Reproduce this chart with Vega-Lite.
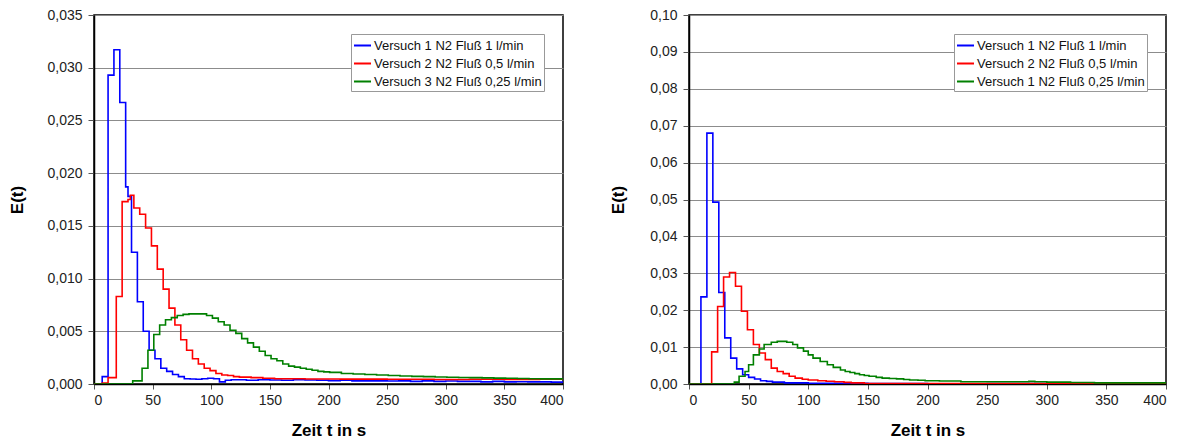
{
  "$schema": "https://vega.github.io/schema/vega-lite/v6.json",
  "padding": {"left": 8, "top": 7, "right": 5, "bottom": 0},
  "bounds": "flush",
  "spacing": 126,
  "background": "white",
  "config": {
    "font": "Liberation Sans",
    "view": {"stroke": "#000000", "strokeWidth": 1.5},
    "axis": {
      "labelFont": "Liberation Sans", "labelFontSize": 14, "labelColor": "#222222",
      "titleFont": "Liberation Sans", "titleFontSize": 17, "titleFontWeight": "bold", "titleColor": "#000000",
      "domainColor": "#000000", "domainWidth": 1.5, "tickColor": "#555555", "tickSize": 6,
      "gridColor": "#8c8c8c", "gridWidth": 1
    },
    "legend": {
      "orient": "top-right", "offset": 19, "title": null,
      "strokeColor": "#999999", "fillColor": "white", "padding": 2,
      "symbolType": "stroke", "symbolSize": 289, "symbolStrokeWidth": 2,
      "labelFont": "Liberation Sans", "labelFontSize": 13, "labelColor": "#111111",
      "labelOffset": 2, "rowPadding": 1, "labelLimit": 300
    }
  },
  "datasets": {
    "left": [
      {"t": 0, "E": 0, "s": "Versuch 1 N2 Fluß 1 l/min"},
      {"t": 7, "E": 0.0007, "s": "Versuch 1 N2 Fluß 1 l/min"},
      {"t": 12, "E": 0.0293, "s": "Versuch 1 N2 Fluß 1 l/min"},
      {"t": 17, "E": 0.0317, "s": "Versuch 1 N2 Fluß 1 l/min"},
      {"t": 22, "E": 0.0267, "s": "Versuch 1 N2 Fluß 1 l/min"},
      {"t": 27, "E": 0.0187, "s": "Versuch 1 N2 Fluß 1 l/min"},
      {"t": 29, "E": 0.0178, "s": "Versuch 1 N2 Fluß 1 l/min"},
      {"t": 32, "E": 0.0125, "s": "Versuch 1 N2 Fluß 1 l/min"},
      {"t": 37, "E": 0.0078, "s": "Versuch 1 N2 Fluß 1 l/min"},
      {"t": 42, "E": 0.005, "s": "Versuch 1 N2 Fluß 1 l/min"},
      {"t": 47, "E": 0.0032, "s": "Versuch 1 N2 Fluß 1 l/min"},
      {"t": 52, "E": 0.0024, "s": "Versuch 1 N2 Fluß 1 l/min"},
      {"t": 57, "E": 0.0015, "s": "Versuch 1 N2 Fluß 1 l/min"},
      {"t": 62, "E": 0.0012, "s": "Versuch 1 N2 Fluß 1 l/min"},
      {"t": 67, "E": 0.0009, "s": "Versuch 1 N2 Fluß 1 l/min"},
      {"t": 72, "E": 0.0007, "s": "Versuch 1 N2 Fluß 1 l/min"},
      {"t": 77, "E": 0.0005, "s": "Versuch 1 N2 Fluß 1 l/min"},
      {"t": 82, "E": 0.00048, "s": "Versuch 1 N2 Fluß 1 l/min"},
      {"t": 87, "E": 0.00045, "s": "Versuch 1 N2 Fluß 1 l/min"},
      {"t": 92, "E": 0.0005, "s": "Versuch 1 N2 Fluß 1 l/min"},
      {"t": 97, "E": 0.00055, "s": "Versuch 1 N2 Fluß 1 l/min"},
      {"t": 102, "E": 0.0005, "s": "Versuch 1 N2 Fluß 1 l/min"},
      {"t": 107, "E": 0.0002, "s": "Versuch 1 N2 Fluß 1 l/min"},
      {"t": 112, "E": 0.00035, "s": "Versuch 1 N2 Fluß 1 l/min"},
      {"t": 117, "E": 0.0004, "s": "Versuch 1 N2 Fluß 1 l/min"},
      {"t": 130, "E": 0.00035, "s": "Versuch 1 N2 Fluß 1 l/min"},
      {"t": 140, "E": 0.0004, "s": "Versuch 1 N2 Fluß 1 l/min"},
      {"t": 150, "E": 0.00038, "s": "Versuch 1 N2 Fluß 1 l/min"},
      {"t": 160, "E": 0.00035, "s": "Versuch 1 N2 Fluß 1 l/min"},
      {"t": 170, "E": 0.0004, "s": "Versuch 1 N2 Fluß 1 l/min"},
      {"t": 180, "E": 0.00038, "s": "Versuch 1 N2 Fluß 1 l/min"},
      {"t": 190, "E": 0.00035, "s": "Versuch 1 N2 Fluß 1 l/min"},
      {"t": 200, "E": 0.00032, "s": "Versuch 1 N2 Fluß 1 l/min"},
      {"t": 210, "E": 0.00035, "s": "Versuch 1 N2 Fluß 1 l/min"},
      {"t": 220, "E": 0.0003, "s": "Versuch 1 N2 Fluß 1 l/min"},
      {"t": 240, "E": 0.0003, "s": "Versuch 1 N2 Fluß 1 l/min"},
      {"t": 250, "E": 0.00028, "s": "Versuch 1 N2 Fluß 1 l/min"},
      {"t": 260, "E": 0.0003, "s": "Versuch 1 N2 Fluß 1 l/min"},
      {"t": 270, "E": 0.00025, "s": "Versuch 1 N2 Fluß 1 l/min"},
      {"t": 280, "E": 0.0003, "s": "Versuch 1 N2 Fluß 1 l/min"},
      {"t": 290, "E": 0.00025, "s": "Versuch 1 N2 Fluß 1 l/min"},
      {"t": 300, "E": 0.00028, "s": "Versuch 1 N2 Fluß 1 l/min"},
      {"t": 310, "E": 0.00025, "s": "Versuch 1 N2 Fluß 1 l/min"},
      {"t": 330, "E": 0.0002, "s": "Versuch 1 N2 Fluß 1 l/min"},
      {"t": 340, "E": 0.00025, "s": "Versuch 1 N2 Fluß 1 l/min"},
      {"t": 350, "E": 0.0002, "s": "Versuch 1 N2 Fluß 1 l/min"},
      {"t": 360, "E": 0.00022, "s": "Versuch 1 N2 Fluß 1 l/min"},
      {"t": 370, "E": 0.0002, "s": "Versuch 1 N2 Fluß 1 l/min"},
      {"t": 390, "E": 0.00018, "s": "Versuch 1 N2 Fluß 1 l/min"},
      {"t": 400, "E": 0.00018, "s": "Versuch 1 N2 Fluß 1 l/min"},

      {"t": 0, "E": 0, "s": "Versuch 2 N2 Fluß 0,5 l/min"},
      {"t": 7, "E": 0.0001, "s": "Versuch 2 N2 Fluß 0,5 l/min"},
      {"t": 12, "E": 0.0006, "s": "Versuch 2 N2 Fluß 0,5 l/min"},
      {"t": 19, "E": 0.0083, "s": "Versuch 2 N2 Fluß 0,5 l/min"},
      {"t": 24, "E": 0.0173, "s": "Versuch 2 N2 Fluß 0,5 l/min"},
      {"t": 29, "E": 0.0175, "s": "Versuch 2 N2 Fluß 0,5 l/min"},
      {"t": 31, "E": 0.0179, "s": "Versuch 2 N2 Fluß 0,5 l/min"},
      {"t": 34, "E": 0.0167, "s": "Versuch 2 N2 Fluß 0,5 l/min"},
      {"t": 39, "E": 0.0161, "s": "Versuch 2 N2 Fluß 0,5 l/min"},
      {"t": 44, "E": 0.0148, "s": "Versuch 2 N2 Fluß 0,5 l/min"},
      {"t": 49, "E": 0.0131, "s": "Versuch 2 N2 Fluß 0,5 l/min"},
      {"t": 54, "E": 0.0109, "s": "Versuch 2 N2 Fluß 0,5 l/min"},
      {"t": 59, "E": 0.009, "s": "Versuch 2 N2 Fluß 0,5 l/min"},
      {"t": 64, "E": 0.0072, "s": "Versuch 2 N2 Fluß 0,5 l/min"},
      {"t": 69, "E": 0.0056, "s": "Versuch 2 N2 Fluß 0,5 l/min"},
      {"t": 74, "E": 0.0042, "s": "Versuch 2 N2 Fluß 0,5 l/min"},
      {"t": 79, "E": 0.0032, "s": "Versuch 2 N2 Fluß 0,5 l/min"},
      {"t": 84, "E": 0.0024, "s": "Versuch 2 N2 Fluß 0,5 l/min"},
      {"t": 89, "E": 0.0019, "s": "Versuch 2 N2 Fluß 0,5 l/min"},
      {"t": 94, "E": 0.0015, "s": "Versuch 2 N2 Fluß 0,5 l/min"},
      {"t": 99, "E": 0.00127, "s": "Versuch 2 N2 Fluß 0,5 l/min"},
      {"t": 104, "E": 0.001, "s": "Versuch 2 N2 Fluß 0,5 l/min"},
      {"t": 109, "E": 0.00086, "s": "Versuch 2 N2 Fluß 0,5 l/min"},
      {"t": 114, "E": 0.0008, "s": "Versuch 2 N2 Fluß 0,5 l/min"},
      {"t": 119, "E": 0.0007, "s": "Versuch 2 N2 Fluß 0,5 l/min"},
      {"t": 124, "E": 0.00065, "s": "Versuch 2 N2 Fluß 0,5 l/min"},
      {"t": 134, "E": 0.0006, "s": "Versuch 2 N2 Fluß 0,5 l/min"},
      {"t": 144, "E": 0.00055, "s": "Versuch 2 N2 Fluß 0,5 l/min"},
      {"t": 154, "E": 0.0005, "s": "Versuch 2 N2 Fluß 0,5 l/min"},
      {"t": 180, "E": 0.00048, "s": "Versuch 2 N2 Fluß 0,5 l/min"},
      {"t": 210, "E": 0.00046, "s": "Versuch 2 N2 Fluß 0,5 l/min"},
      {"t": 250, "E": 0.00045, "s": "Versuch 2 N2 Fluß 0,5 l/min"},
      {"t": 290, "E": 0.00042, "s": "Versuch 2 N2 Fluß 0,5 l/min"},
      {"t": 320, "E": 0.00045, "s": "Versuch 2 N2 Fluß 0,5 l/min"},
      {"t": 350, "E": 0.00042, "s": "Versuch 2 N2 Fluß 0,5 l/min"},
      {"t": 380, "E": 0.00045, "s": "Versuch 2 N2 Fluß 0,5 l/min"},
      {"t": 400, "E": 0.00045, "s": "Versuch 2 N2 Fluß 0,5 l/min"},

      {"t": 0, "E": 0, "s": "Versuch 3 N2 Fluß 0,25 l/min"},
      {"t": 33, "E": 0.0003, "s": "Versuch 3 N2 Fluß 0,25 l/min"},
      {"t": 41, "E": 0.0015, "s": "Versuch 3 N2 Fluß 0,25 l/min"},
      {"t": 46, "E": 0.0032, "s": "Versuch 3 N2 Fluß 0,25 l/min"},
      {"t": 51, "E": 0.0047, "s": "Versuch 3 N2 Fluß 0,25 l/min"},
      {"t": 56, "E": 0.0056, "s": "Versuch 3 N2 Fluß 0,25 l/min"},
      {"t": 61, "E": 0.0061, "s": "Versuch 3 N2 Fluß 0,25 l/min"},
      {"t": 66, "E": 0.0063, "s": "Versuch 3 N2 Fluß 0,25 l/min"},
      {"t": 71, "E": 0.0065, "s": "Versuch 3 N2 Fluß 0,25 l/min"},
      {"t": 76, "E": 0.0066, "s": "Versuch 3 N2 Fluß 0,25 l/min"},
      {"t": 81, "E": 0.00665, "s": "Versuch 3 N2 Fluß 0,25 l/min"},
      {"t": 96, "E": 0.0065, "s": "Versuch 3 N2 Fluß 0,25 l/min"},
      {"t": 101, "E": 0.00625, "s": "Versuch 3 N2 Fluß 0,25 l/min"},
      {"t": 106, "E": 0.0059, "s": "Versuch 3 N2 Fluß 0,25 l/min"},
      {"t": 111, "E": 0.0056, "s": "Versuch 3 N2 Fluß 0,25 l/min"},
      {"t": 116, "E": 0.0051, "s": "Versuch 3 N2 Fluß 0,25 l/min"},
      {"t": 121, "E": 0.0048, "s": "Versuch 3 N2 Fluß 0,25 l/min"},
      {"t": 126, "E": 0.0043, "s": "Versuch 3 N2 Fluß 0,25 l/min"},
      {"t": 131, "E": 0.0039, "s": "Versuch 3 N2 Fluß 0,25 l/min"},
      {"t": 136, "E": 0.0035, "s": "Versuch 3 N2 Fluß 0,25 l/min"},
      {"t": 141, "E": 0.0031, "s": "Versuch 3 N2 Fluß 0,25 l/min"},
      {"t": 146, "E": 0.0027, "s": "Versuch 3 N2 Fluß 0,25 l/min"},
      {"t": 151, "E": 0.0024, "s": "Versuch 3 N2 Fluß 0,25 l/min"},
      {"t": 156, "E": 0.0022, "s": "Versuch 3 N2 Fluß 0,25 l/min"},
      {"t": 161, "E": 0.0019, "s": "Versuch 3 N2 Fluß 0,25 l/min"},
      {"t": 166, "E": 0.0017, "s": "Versuch 3 N2 Fluß 0,25 l/min"},
      {"t": 171, "E": 0.0016, "s": "Versuch 3 N2 Fluß 0,25 l/min"},
      {"t": 176, "E": 0.0015, "s": "Versuch 3 N2 Fluß 0,25 l/min"},
      {"t": 181, "E": 0.0014, "s": "Versuch 3 N2 Fluß 0,25 l/min"},
      {"t": 186, "E": 0.0013, "s": "Versuch 3 N2 Fluß 0,25 l/min"},
      {"t": 191, "E": 0.0012, "s": "Versuch 3 N2 Fluß 0,25 l/min"},
      {"t": 196, "E": 0.00115, "s": "Versuch 3 N2 Fluß 0,25 l/min"},
      {"t": 201, "E": 0.0011, "s": "Versuch 3 N2 Fluß 0,25 l/min"},
      {"t": 211, "E": 0.001, "s": "Versuch 3 N2 Fluß 0,25 l/min"},
      {"t": 221, "E": 0.00095, "s": "Versuch 3 N2 Fluß 0,25 l/min"},
      {"t": 231, "E": 0.0009, "s": "Versuch 3 N2 Fluß 0,25 l/min"},
      {"t": 241, "E": 0.00085, "s": "Versuch 3 N2 Fluß 0,25 l/min"},
      {"t": 251, "E": 0.0008, "s": "Versuch 3 N2 Fluß 0,25 l/min"},
      {"t": 261, "E": 0.00076, "s": "Versuch 3 N2 Fluß 0,25 l/min"},
      {"t": 271, "E": 0.00072, "s": "Versuch 3 N2 Fluß 0,25 l/min"},
      {"t": 281, "E": 0.0007, "s": "Versuch 3 N2 Fluß 0,25 l/min"},
      {"t": 291, "E": 0.00067, "s": "Versuch 3 N2 Fluß 0,25 l/min"},
      {"t": 301, "E": 0.00064, "s": "Versuch 3 N2 Fluß 0,25 l/min"},
      {"t": 311, "E": 0.00062, "s": "Versuch 3 N2 Fluß 0,25 l/min"},
      {"t": 321, "E": 0.0006, "s": "Versuch 3 N2 Fluß 0,25 l/min"},
      {"t": 331, "E": 0.00058, "s": "Versuch 3 N2 Fluß 0,25 l/min"},
      {"t": 341, "E": 0.00056, "s": "Versuch 3 N2 Fluß 0,25 l/min"},
      {"t": 351, "E": 0.00054, "s": "Versuch 3 N2 Fluß 0,25 l/min"},
      {"t": 361, "E": 0.00052, "s": "Versuch 3 N2 Fluß 0,25 l/min"},
      {"t": 371, "E": 0.0005, "s": "Versuch 3 N2 Fluß 0,25 l/min"},
      {"t": 381, "E": 0.00049, "s": "Versuch 3 N2 Fluß 0,25 l/min"},
      {"t": 400, "E": 0.00048, "s": "Versuch 3 N2 Fluß 0,25 l/min"}
    ],
    "right": [
      {"t": 0, "E": 0, "s": "Versuch 1 N2 Fluß 1 l/min"},
      {"t": 10, "E": 0.0236, "s": "Versuch 1 N2 Fluß 1 l/min"},
      {"t": 15, "E": 0.068, "s": "Versuch 1 N2 Fluß 1 l/min"},
      {"t": 20, "E": 0.0493, "s": "Versuch 1 N2 Fluß 1 l/min"},
      {"t": 25, "E": 0.0248, "s": "Versuch 1 N2 Fluß 1 l/min"},
      {"t": 30, "E": 0.0125, "s": "Versuch 1 N2 Fluß 1 l/min"},
      {"t": 35, "E": 0.007, "s": "Versuch 1 N2 Fluß 1 l/min"},
      {"t": 40, "E": 0.0041, "s": "Versuch 1 N2 Fluß 1 l/min"},
      {"t": 45, "E": 0.0025, "s": "Versuch 1 N2 Fluß 1 l/min"},
      {"t": 50, "E": 0.0018, "s": "Versuch 1 N2 Fluß 1 l/min"},
      {"t": 55, "E": 0.00135, "s": "Versuch 1 N2 Fluß 1 l/min"},
      {"t": 60, "E": 0.0009, "s": "Versuch 1 N2 Fluß 1 l/min"},
      {"t": 65, "E": 0.0007, "s": "Versuch 1 N2 Fluß 1 l/min"},
      {"t": 70, "E": 0.0005, "s": "Versuch 1 N2 Fluß 1 l/min"},
      {"t": 80, "E": 0.0003, "s": "Versuch 1 N2 Fluß 1 l/min"},
      {"t": 100, "E": 0.0002, "s": "Versuch 1 N2 Fluß 1 l/min"},
      {"t": 150, "E": 0.0001, "s": "Versuch 1 N2 Fluß 1 l/min"},
      {"t": 200, "E": 0.00005, "s": "Versuch 1 N2 Fluß 1 l/min"},
      {"t": 250, "E": 0.0001, "s": "Versuch 1 N2 Fluß 1 l/min"},
      {"t": 400, "E": 0.0001, "s": "Versuch 1 N2 Fluß 1 l/min"},

      {"t": 0, "E": 0, "s": "Versuch 2 N2 Fluß 0,5 l/min"},
      {"t": 19, "E": 0.0087, "s": "Versuch 2 N2 Fluß 0,5 l/min"},
      {"t": 24, "E": 0.021, "s": "Versuch 2 N2 Fluß 0,5 l/min"},
      {"t": 29, "E": 0.029, "s": "Versuch 2 N2 Fluß 0,5 l/min"},
      {"t": 34, "E": 0.0302, "s": "Versuch 2 N2 Fluß 0,5 l/min"},
      {"t": 39, "E": 0.0265, "s": "Versuch 2 N2 Fluß 0,5 l/min"},
      {"t": 44, "E": 0.0197, "s": "Versuch 2 N2 Fluß 0,5 l/min"},
      {"t": 49, "E": 0.0147, "s": "Versuch 2 N2 Fluß 0,5 l/min"},
      {"t": 54, "E": 0.0107, "s": "Versuch 2 N2 Fluß 0,5 l/min"},
      {"t": 59, "E": 0.0084, "s": "Versuch 2 N2 Fluß 0,5 l/min"},
      {"t": 64, "E": 0.0066, "s": "Versuch 2 N2 Fluß 0,5 l/min"},
      {"t": 69, "E": 0.0043, "s": "Versuch 2 N2 Fluß 0,5 l/min"},
      {"t": 74, "E": 0.0034, "s": "Versuch 2 N2 Fluß 0,5 l/min"},
      {"t": 79, "E": 0.0028, "s": "Versuch 2 N2 Fluß 0,5 l/min"},
      {"t": 84, "E": 0.0021, "s": "Versuch 2 N2 Fluß 0,5 l/min"},
      {"t": 89, "E": 0.0016, "s": "Versuch 2 N2 Fluß 0,5 l/min"},
      {"t": 95, "E": 0.0013, "s": "Versuch 2 N2 Fluß 0,5 l/min"},
      {"t": 100, "E": 0.0011, "s": "Versuch 2 N2 Fluß 0,5 l/min"},
      {"t": 108, "E": 0.0009, "s": "Versuch 2 N2 Fluß 0,5 l/min"},
      {"t": 115, "E": 0.00075, "s": "Versuch 2 N2 Fluß 0,5 l/min"},
      {"t": 122, "E": 0.0006, "s": "Versuch 2 N2 Fluß 0,5 l/min"},
      {"t": 130, "E": 0.00045, "s": "Versuch 2 N2 Fluß 0,5 l/min"},
      {"t": 136, "E": 0.0003, "s": "Versuch 2 N2 Fluß 0,5 l/min"},
      {"t": 147, "E": 0.00015, "s": "Versuch 2 N2 Fluß 0,5 l/min"},
      {"t": 160, "E": 0.0001, "s": "Versuch 2 N2 Fluß 0,5 l/min"},
      {"t": 400, "E": 0.0001, "s": "Versuch 2 N2 Fluß 0,5 l/min"},

      {"t": 0, "E": 0, "s": "Versuch 1 N2 Fluß 0,25 l/min"},
      {"t": 38, "E": 0.0005, "s": "Versuch 1 N2 Fluß 0,25 l/min"},
      {"t": 42, "E": 0.0021, "s": "Versuch 1 N2 Fluß 0,25 l/min"},
      {"t": 47, "E": 0.0034, "s": "Versuch 1 N2 Fluß 0,25 l/min"},
      {"t": 50, "E": 0.0052, "s": "Versuch 1 N2 Fluß 0,25 l/min"},
      {"t": 54, "E": 0.0079, "s": "Versuch 1 N2 Fluß 0,25 l/min"},
      {"t": 59, "E": 0.0095, "s": "Versuch 1 N2 Fluß 0,25 l/min"},
      {"t": 63, "E": 0.0107, "s": "Versuch 1 N2 Fluß 0,25 l/min"},
      {"t": 69, "E": 0.0113, "s": "Versuch 1 N2 Fluß 0,25 l/min"},
      {"t": 74, "E": 0.01155, "s": "Versuch 1 N2 Fluß 0,25 l/min"},
      {"t": 82, "E": 0.0113, "s": "Versuch 1 N2 Fluß 0,25 l/min"},
      {"t": 87, "E": 0.0107, "s": "Versuch 1 N2 Fluß 0,25 l/min"},
      {"t": 91, "E": 0.0098, "s": "Versuch 1 N2 Fluß 0,25 l/min"},
      {"t": 96, "E": 0.0089, "s": "Versuch 1 N2 Fluß 0,25 l/min"},
      {"t": 100, "E": 0.0079, "s": "Versuch 1 N2 Fluß 0,25 l/min"},
      {"t": 104, "E": 0.007, "s": "Versuch 1 N2 Fluß 0,25 l/min"},
      {"t": 110, "E": 0.0061, "s": "Versuch 1 N2 Fluß 0,25 l/min"},
      {"t": 116, "E": 0.0052, "s": "Versuch 1 N2 Fluß 0,25 l/min"},
      {"t": 121, "E": 0.0045, "s": "Versuch 1 N2 Fluß 0,25 l/min"},
      {"t": 127, "E": 0.0038, "s": "Versuch 1 N2 Fluß 0,25 l/min"},
      {"t": 131, "E": 0.0034, "s": "Versuch 1 N2 Fluß 0,25 l/min"},
      {"t": 135, "E": 0.0031, "s": "Versuch 1 N2 Fluß 0,25 l/min"},
      {"t": 139, "E": 0.0028, "s": "Versuch 1 N2 Fluß 0,25 l/min"},
      {"t": 143, "E": 0.0025, "s": "Versuch 1 N2 Fluß 0,25 l/min"},
      {"t": 147, "E": 0.0023, "s": "Versuch 1 N2 Fluß 0,25 l/min"},
      {"t": 151, "E": 0.0021, "s": "Versuch 1 N2 Fluß 0,25 l/min"},
      {"t": 157, "E": 0.0018, "s": "Versuch 1 N2 Fluß 0,25 l/min"},
      {"t": 162, "E": 0.0016, "s": "Versuch 1 N2 Fluß 0,25 l/min"},
      {"t": 168, "E": 0.0015, "s": "Versuch 1 N2 Fluß 0,25 l/min"},
      {"t": 174, "E": 0.0014, "s": "Versuch 1 N2 Fluß 0,25 l/min"},
      {"t": 180, "E": 0.0012, "s": "Versuch 1 N2 Fluß 0,25 l/min"},
      {"t": 185, "E": 0.0011, "s": "Versuch 1 N2 Fluß 0,25 l/min"},
      {"t": 192, "E": 0.001, "s": "Versuch 1 N2 Fluß 0,25 l/min"},
      {"t": 198, "E": 0.0009, "s": "Versuch 1 N2 Fluß 0,25 l/min"},
      {"t": 210, "E": 0.0008, "s": "Versuch 1 N2 Fluß 0,25 l/min"},
      {"t": 228, "E": 0.0006, "s": "Versuch 1 N2 Fluß 0,25 l/min"},
      {"t": 285, "E": 0.0007, "s": "Versuch 1 N2 Fluß 0,25 l/min"},
      {"t": 290, "E": 0.0006, "s": "Versuch 1 N2 Fluß 0,25 l/min"},
      {"t": 300, "E": 0.0005, "s": "Versuch 1 N2 Fluß 0,25 l/min"},
      {"t": 320, "E": 0.0004, "s": "Versuch 1 N2 Fluß 0,25 l/min"},
      {"t": 340, "E": 0.0003, "s": "Versuch 1 N2 Fluß 0,25 l/min"},
      {"t": 400, "E": 0.0003, "s": "Versuch 1 N2 Fluß 0,25 l/min"}
    ]
  },
  "hconcat": [
    {
      "width": 469,
      "height": 369,
      "data": {"name": "left"},
      "mark": {"type": "line", "interpolate": "step-after", "strokeWidth": 1.6, "clip": true},
      "encoding": {
        "x": {"field": "t", "type": "quantitative", "title": "Zeit t in s",
              "scale": {"domain": [0, 400], "nice": false},
              "axis": {"values": [0, 50, 100, 150, 200, 250, 300, 350, 400], "grid": false, "tickSize": 5, "labelPadding": 4, "titlePadding": 15}},
        "y": {"field": "E", "type": "quantitative", "title": "E(t)",
              "scale": {"domain": [0, 0.035], "nice": false},
              "axis": {"values": [0, 0.005, 0.01, 0.015, 0.02, 0.025, 0.03, 0.035], "labelPadding": 6, "titlePadding": 20,
                       "labelExpr": "replace(format(datum.value, '.3f'), '.', ',')"}},
        "color": {"field": "s", "type": "nominal",
                  "scale": {"domain": ["Versuch 1 N2 Fluß 1 l/min", "Versuch 2 N2 Fluß 0,5 l/min", "Versuch 3 N2 Fluß 0,25 l/min"],
                            "range": ["#0000ff", "#ff0000", "#008000"]}}
      }
    },
    {
      "width": 477,
      "height": 369,
      "data": {"name": "right"},
      "mark": {"type": "line", "interpolate": "step-after", "strokeWidth": 1.6, "clip": true},
      "encoding": {
        "x": {"field": "t", "type": "quantitative", "title": "Zeit t in s",
              "scale": {"domain": [0, 400], "nice": false},
              "axis": {"values": [0, 50, 100, 150, 200, 250, 300, 350, 400], "grid": false, "tickSize": 5, "labelPadding": 4, "titlePadding": 15}},
        "y": {"field": "E", "type": "quantitative", "title": "E(t)",
              "scale": {"domain": [0, 0.1], "nice": false},
              "axis": {"values": [0, 0.01, 0.02, 0.03, 0.04, 0.05, 0.06, 0.07, 0.08, 0.09, 0.1], "labelPadding": 6, "titlePadding": 22,
                       "labelExpr": "replace(format(datum.value, '.2f'), '.', ',')"}},
        "color": {"field": "s", "type": "nominal",
                  "scale": {"domain": ["Versuch 1 N2 Fluß 1 l/min", "Versuch 2 N2 Fluß 0,5 l/min", "Versuch 1 N2 Fluß 0,25 l/min"],
                            "range": ["#0000ff", "#ff0000", "#008000"]}}
      }
    }
  ],
  "resolve": {"scale": {"color": "independent", "x": "independent", "y": "independent"}, "legend": {"color": "independent"}}
}
